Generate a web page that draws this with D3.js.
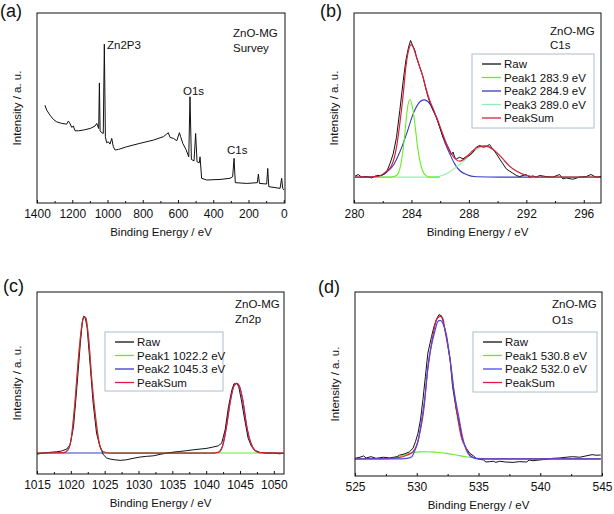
<!DOCTYPE html>
<html><head><meta charset="utf-8">
<script src="https://cdn.jsdelivr.net/npm/d3@7"></script>
<style>
body{margin:0;background:#fff}
svg{display:block}
text{font-family:"Liberation Sans",Arial,Helvetica,sans-serif;fill:#111}
</style>
</head><body>
<svg id="chart" width="614" height="514"></svg>
<script>
// ---------- (a) Survey ----------
const surveyE = [1355,1345,1326,1307,1288,1260,1232,1222,1213,1203,1194,1184,1165,1137,1099,1071,1061,1054,1050,1046,1042,1033,1024,1018,1012,1005,995,986,976,967,957,938,891,816,740,683,664,655,645,626,607,592,585,573,555,539,532,524,509,500,492,479,475,466,437,362,305,290,282,275,210,150,144,138,97,91,85,21,12,6,-2];
const surveyI = [51.5,48.9,46.2,44.0,42.7,41.9,41.5,43.1,41.9,39.8,40.5,38.0,38.0,38.4,39.2,40.5,41.9,40.1,39.2,63.2,38.0,37.0,36.6,83.6,34.9,31.7,32.2,31.0,34.0,29.6,27.9,28.2,29.6,31.4,33.1,34.9,36.3,37.0,34.5,34.0,32.8,37.0,34.9,31.4,28.2,24.3,55.9,22.9,22.2,36.6,21.7,21.2,24.3,13.0,12.1,12.4,13.0,13.8,23.5,10.7,10.3,10.7,15.2,10.3,10.0,18.2,8.6,7.7,13.0,7.7,6.8];
const surveyTicks = [1400,1200,1000,800,600,400,200,0];
const surveyMinor = [1300,1100,900,700,500,300,100];

// ---------- (b) C1s ----------
const c1sRawE = [280.07,280.30,280.53,280.88,281.23,281.57,281.92,282.15,282.31,282.50,282.73,282.96,283.19,283.43,283.61,283.80,283.94,284.03,284.12,284.24,284.35,284.47,284.58,284.70,284.81,285.00,285.16,285.32,285.51,285.74,285.97,286.20,286.44,286.67,286.78,286.90,287.01,287.13,287.36,287.59,287.82,288.06,288.29,288.52,288.75,288.98,289.21,289.44,289.56,289.68,289.91,290.14,290.37,290.60,290.83,291.06,291.30,291.53,291.99,292.22,292.45,292.69,292.92,293.38,293.84,294.31,294.54,294.77,295.23,295.69,296.16,296.50,296.85,297.2];
const c1sRawI = [14.1,15.0,13.6,13.9,13.2,14.5,14.5,15.4,17.1,20.6,25.9,34.6,48.7,64.5,75.0,82.0,85.5,83.8,82.4,80.3,76.8,74.1,71.5,68.9,66.2,60.1,55.7,52.2,48.7,45.2,39.9,34.6,31.1,27.6,25.5,26.8,24.1,23.2,24.1,23.2,24.5,25.0,26.8,29.4,30.3,29.4,29.7,30.8,29.4,28.5,25.9,23.2,20.6,18.0,16.8,15.7,14.5,13.9,15.0,13.6,14.3,13.6,14.5,13.9,13.6,15.0,12.7,13.2,12.5,13.6,13.9,15.0,13.6,13.9];
const c1sP1E = [281.57,282.50,282.96,283.19,283.38,283.54,283.70,283.89,284.07,284.24,284.40,284.58,284.77,285.00,285.28,285.97];
const c1sP1I = [13.6,13.6,14.5,18.0,25.9,36.4,48.7,54.5,50.4,41.7,31.1,22.4,17.1,14.5,13.6,13.6];
const c1sP2E = [280.07,281.57,282.27,282.73,283.19,283.66,284.12,284.47,284.88,285.28,285.63,285.97,286.32,286.67,287.01,287.36,287.82,288.52,290.14,297.2];
const c1sP2I = [13.6,13.9,16.2,19.7,26.8,36.4,46.9,52.2,54.3,52.2,46.9,39.9,32.0,25.9,20.6,17.1,15.0,13.8,13.6,13.6];
const c1sP3E = [281.57,285.51,286.44,287.13,287.82,288.29,288.75,289.10,289.44,289.91,290.37,290.83,291.30,291.99,292.92,297.2];
const c1sP3I = [13.6,13.6,15.4,18.9,23.2,26.8,29.0,29.7,29.0,26.8,23.2,19.4,16.8,14.5,13.6,13.6];
const c1sSumE = [280.07,281.57,282.27,282.62,282.96,283.19,283.43,283.61,283.80,283.98,284.17,284.35,284.58,284.81,285.05,285.28,285.51,285.79,286.09,286.44,286.78,287.13,287.36,287.59,287.82,288.17,288.52,288.87,289.10,289.44,289.91,290.37,290.83,291.30,291.99,292.92,297.2];
const c1sSumI = [13.6,13.9,16.8,19.7,29.4,41.7,57.5,71.5,80.3,83.4,81.1,76.8,71.5,66.2,59.2,53.9,49.6,44.3,38.2,31.1,25.9,22.7,22.0,22.7,24.1,26.8,29.0,29.9,30.1,29.4,26.8,23.2,19.4,16.8,14.6,13.6,13.6];
const c1sTicks = [280,284,288,292,296];
const c1sMinor = [282,286,290,294];

// ---------- (c) Zn2p ----------
const znRawE = [1015.0,1015.9,1016.9,1017.9,1018.6,1019.4,1019.9,1020.4,1020.9,1021.4,1021.7,1021.9,1022.1,1022.4,1022.8,1023.3,1023.8,1024.3,1024.8,1025.3,1025.8,1026.5,1027.3,1028.2,1029.2,1030.2,1031.2,1032.2,1033.2,1034.2,1035.1,1036.1,1037.1,1038.1,1039.1,1040.1,1041.0,1041.8,1042.3,1042.8,1043.3,1043.8,1044.1,1044.5,1044.8,1045.2,1045.7,1046.2,1046.7,1047.2,1047.9,1048.9,1049.9,1050.9,1051.4];
const znRawI = [10.9,11.5,11.9,12.2,12.6,13.7,16.1,26.1,48.0,71.7,83.6,86.7,86.3,80.8,62.6,38.9,22.4,15.1,10.6,8.8,8.2,7.8,7.5,7.8,8.6,9.3,9.7,10.0,10.8,11.5,12.0,12.4,12.8,13.3,13.7,14.1,14.8,15.5,17.0,24.3,37.0,46.2,49.5,49.8,48.0,40.7,29.7,19.7,15.1,13.0,11.9,11.5,11.5,11.1,11.5];
const znP1E = [1015.0,1018.9,1019.6,1020.1,1020.6,1021.1,1021.6,1021.9,1022.2,1022.6,1023.1,1023.7,1024.2,1024.8,1025.8,1051.4];
const znP1I = [11.5,11.7,13.3,20.6,38.9,62.6,80.8,86.3,85.9,75.4,51.6,29.7,17.0,12.2,11.5,11.5];
const znP2E = [1015.0,1041.0,1041.8,1042.4,1043.0,1043.6,1044.1,1044.5,1044.9,1045.4,1046.0,1046.6,1047.2,1047.9,1051.4];
const znP2I = [11.5,11.5,11.9,15.1,26.1,40.7,48.4,49.8,48.4,40.7,26.1,17.0,13.0,11.7,11.5];
const znSumE = [1015.0,1018.9,1019.6,1020.1,1020.6,1021.1,1021.6,1021.9,1022.2,1022.6,1023.1,1023.7,1024.2,1024.8,1025.8,1041.0,1041.8,1042.4,1043.0,1043.6,1044.1,1044.5,1044.9,1045.4,1046.0,1046.6,1047.2,1047.9,1051.4];
const znSumI = [11.5,11.7,13.3,20.6,38.9,62.6,80.8,86.3,85.9,75.4,51.6,29.7,17.0,12.2,11.5,11.5,11.9,15.1,26.1,40.7,48.4,49.8,48.4,40.7,26.1,17.0,13.0,11.7,11.5];
const znTicks = [1015,1020,1025,1030,1035,1040,1045,1050];
const znMinor = [1017.5,1022.5,1027.5,1032.5,1037.5,1042.5,1047.5];

// ---------- (d) O1s ----------
const o1sRawE = [525.0,525.4,525.7,525.9,526.3,526.7,527.3,527.8,528.4,528.6,529.0,529.4,529.7,529.9,530.1,530.3,530.5,530.7,530.9,531.2,531.4,531.6,531.8,532.0,532.1,532.4,532.7,532.9,533.2,533.5,533.7,534.0,534.3,534.6,534.8,535.1,535.4,535.6,535.9,536.2,536.4,536.7,537.2,537.8,538.3,538.9,539.1,539.4,539.9,540.5,541.0,541.6,542.1,542.6,543.2,543.7,544.2,544.5,544.9];
const o1sRawI = [9.6,10.2,10.9,9.8,10.5,9.6,10.2,9.8,10.5,11.3,12.0,13.1,15.1,18.7,23.2,30.5,41.4,54.1,66.8,75.9,81.3,85.3,87.7,87.1,84.9,75.9,63.2,48.6,35.9,26.9,19.6,15.1,12.3,10.9,9.6,9.1,8.7,7.6,7.8,8.0,7.4,8.0,7.6,7.4,7.8,7.6,8.7,8.3,8.7,9.1,9.6,9.8,10.2,10.5,10.2,10.9,11.6,11.3,11.4];
const o1sP1E = [525.0,527.6,528.6,529.4,530.2,530.9,531.6,532.4,533.2,534.0,534.8,535.6,544.9];
const o1sP1I = [9.3,9.4,10.5,12.3,13.1,13.2,12.9,12.3,11.4,10.5,9.8,9.3,9.3];
const o1sP2E = [525.0,528.4,529.2,529.6,529.8,530.1,530.4,530.7,530.9,531.2,531.5,531.7,531.9,532.1,532.4,532.7,533.0,533.4,533.7,534.0,534.4,535.0,544.9];
const o1sP2I = [9.3,9.3,9.6,10.5,13.2,18.7,30.5,45.0,59.5,71.3,79.5,84.0,84.6,83.1,76.8,63.2,46.8,32.3,21.4,14.2,10.5,9.3,9.3];
const o1sSumE = [525.0,527.3,528.4,529.2,529.7,530.0,530.3,530.6,530.8,531.1,531.4,531.6,531.9,532.1,532.3,532.7,533.0,533.3,533.6,534.0,534.3,534.7,535.2,544.9];
const o1sSumI = [9.3,9.4,9.8,11.3,13.2,16.9,25.0,37.7,52.3,67.7,79.5,84.9,86.8,85.8,78.6,63.2,46.8,32.3,21.4,15.1,11.4,9.8,9.3,9.3];
const o1sTicks = [525,530,535,540,545];
const o1sMinor = [527.5,532.5,537.5,542.5];

// ---------- text ----------
const xTitle = "Binding Energy / eV";
const yTitle = "Intensity / a. u.";
const sample = "ZnO-MG";

const C = {raw:"#111111", p1:"#66ee22", p2:"#3a3ac8", p3:"#8ff0b4", sum:"#d8203c"};

const panels = [
  {label:"(a)", lx:0, ly:17, box:{l:37,t:13,r:285,b:203}, xd:[1400,-7], ticks:surveyTicks, minor:surveyMinor,
   series:[{e:surveyE,i:surveyI,c:C.raw,w:1,curve:d3.curveLinear}],
   notes:[{t:sample,x:233,y:37},{t:"Survey",x:233,y:52},{t:"Zn2P3",x:107,y:49},{t:"O1s",x:183,y:95},{t:"C1s",x:227,y:154}],
   legend:null},
  {label:"(b)", lx:320, ly:17, box:{l:354,t:13,r:601,b:203}, xd:[280,297.2], ticks:c1sTicks, minor:c1sMinor,
   series:[
     {e:c1sP2E,i:c1sP2I,c:C.p2,w:1.1,curve:d3.curveMonotoneX},
     {e:c1sP3E,i:c1sP3I,c:C.p3,w:1.1,curve:d3.curveMonotoneX},
     {e:c1sP1E,i:c1sP1I,c:C.p1,w:1.1,curve:d3.curveMonotoneX},
     {e:c1sRawE,i:c1sRawI,c:C.raw,w:1,curve:d3.curveLinear},
     {e:c1sSumE,i:c1sSumI,c:C.sum,w:1.2,curve:d3.curveMonotoneX}],
   notes:[{t:sample,x:550,y:35},{t:"C1s",x:550,y:49}],
   legend:{x:472,y:54,w:122,h:74,rows:[["Raw",C.raw],["Peak1 283.9 eV",C.p1],["Peak2 284.9 eV",C.p2],["Peak3 289.0 eV",C.p3],["PeakSum",C.sum]]}},
  {label:"(c)", lx:3, ly:292, box:{l:37,t:292,r:284,b:474}, xd:[1015,1051.5], ticks:znTicks, minor:znMinor,
   series:[
     {e:znP2E,i:znP2I,c:C.p2,w:1.1,curve:d3.curveMonotoneX},
     {e:znP1E,i:znP1I,c:C.p1,w:1.1,curve:d3.curveMonotoneX},
     {e:znRawE,i:znRawI,c:C.raw,w:1,curve:d3.curveLinear},
     {e:znSumE,i:znSumI,c:C.sum,w:1.2,curve:d3.curveMonotoneX}],
   notes:[{t:sample,x:235,y:308},{t:"Zn2p",x:235,y:323}],
   legend:{x:105,y:332,w:118,h:59,rows:[["Raw",C.raw],["Peak1 1022.2 eV",C.p1],["Peak2 1045.3 eV",C.p2],["PeakSum",C.sum]]}},
  {label:"(d)", lx:318, ly:293, box:{l:355,t:292,r:602,b:476}, xd:[525,545], ticks:o1sTicks, minor:o1sMinor,
   series:[
     {e:o1sP1E,i:o1sP1I,c:C.p1,w:1.1,curve:d3.curveMonotoneX},
     {e:o1sRawE,i:o1sRawI,c:C.raw,w:1,curve:d3.curveLinear},
     {e:o1sSumE,i:o1sSumI,c:C.sum,w:1.2,curve:d3.curveMonotoneX},
     {e:o1sP2E,i:o1sP2I,c:"#4b4be6",w:1.2,curve:d3.curveMonotoneX}],
   notes:[{t:sample,x:552,y:308},{t:"O1s",x:552,y:324}],
   legend:{x:473,y:332,w:124,h:60,rows:[["Raw",C.raw],["Peak1 530.8 eV",C.p1],["Peak2 532.0 eV","#4b4be6"],["PeakSum",C.sum]]}}
];

const svg = d3.select("#chart");

panels.forEach(p => {
  const g = svg.append("g");
  const b = p.box;
  const x = d3.scaleLinear().domain(p.xd).range([b.l, b.r]);
  const y = d3.scaleLinear().domain([0,100]).range([b.b, b.t]);

  const clipId = "clip" + p.label.replace(/\W/g,"");
  svg.append("clipPath").attr("id", clipId).append("rect")
    .attr("x", b.l).attr("y", b.t).attr("width", b.r-b.l).attr("height", b.b-b.t);

  const plot = g.append("g").attr("clip-path", `url(#${clipId})`);
  p.series.forEach(s => {
    const pts = s.e.map((e,k)=>[e, s.i[k]]);
    plot.append("path").datum(pts)
      .attr("fill","none").attr("stroke", s.c).attr("stroke-width", s.w)
      .attr("stroke-linejoin","round")
      .attr("d", d3.line().x(d=>x(d[0])).y(d=>y(d[1])).curve(s.curve));
  });

  // frame
  g.append("rect").attr("x", b.l).attr("y", b.t).attr("width", b.r-b.l).attr("height", b.b-b.t)
    .attr("fill","none").attr("stroke","#111").attr("stroke-width",1);

  // x axis (ticks inward)
  const ax = g.append("g").attr("transform", `translate(0,${b.b})`)
    .call(d3.axisBottom(x).tickValues(p.ticks).tickSize(-3).tickPadding(6).tickFormat(d3.format("d")));
  ax.select(".domain").remove();
  ax.selectAll("line").attr("stroke","#111");
  ax.selectAll("text").attr("font-size", 12).attr("fill","#111")
    .attr("font-family","'Liberation Sans',Arial,sans-serif");
  const mx = g.append("g").attr("transform", `translate(0,${b.b})`)
    .call(d3.axisBottom(x).tickValues(p.minor).tickSize(-2).tickFormat(""));
  mx.select(".domain").remove();
  mx.selectAll("line").attr("stroke","#111");

  // titles
  g.append("text").attr("x", (b.l+b.r)/2).attr("y", b.b + 33).attr("text-anchor","middle")
    .attr("font-size", 11.5).text(xTitle);
  g.append("text").attr("transform", `translate(${b.l-16},${(b.t+b.b)/2}) rotate(-90)`)
    .attr("text-anchor","middle").attr("font-size", 11.5).text(yTitle);

  g.append("text").attr("x", p.lx).attr("y", p.ly).attr("font-size", 18).text(p.label);

  p.notes.forEach(n => g.append("text").attr("x", n.x).attr("y", n.y).attr("font-size", 11.5).text(n.t));

  if (p.legend) {
    const L = p.legend;
    g.append("rect").attr("x", L.x).attr("y", L.y).attr("width", L.w).attr("height", L.h)
      .attr("fill","#fff").attr("stroke","#aebdcc").attr("stroke-width",1);
    L.rows.forEach((r,k) => {
      const cy = L.y + 10 + k*13.5;
      g.append("line").attr("x1", L.x+10).attr("x2", L.x+29).attr("y1", cy).attr("y2", cy)
        .attr("stroke", r[1]).attr("stroke-width", 1.3);
      g.append("text").attr("x", L.x+32).attr("y", cy+4).attr("font-size", 11.5).text(r[0]);
    });
  }
});
</script>
</body></html>
